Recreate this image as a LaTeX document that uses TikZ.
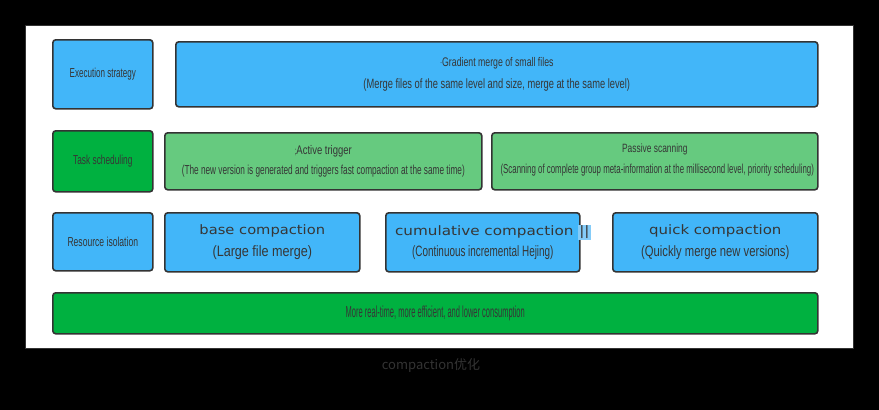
\documentclass[tikz,border=0pt]{standalone}
\usepackage{fontspec}
\setmainfont{Liberation Sans}
\newfontfamily\widefont{DejaVu Sans}
\newfontfamily\cjk{Noto Sans CJK SC}
\usetikzlibrary{positioning}
\definecolor{Sky}{HTML}{42B6F9}
\definecolor{Leaf}{HTML}{00B140}
\definecolor{Mint}{HTML}{66CA7F}
\definecolor{Edge}{HTML}{333333}
\definecolor{Ink}{HTML}{363636}
\definecolor{Pick}{HTML}{85CCF8}
% size and squeeze of a line
\newcommand\fz[2]{\fontsize{#1}{20.5}\selectfont\addfontfeature{FakeStretch=#2}}

\begin{document}
\begin{tikzpicture}[x=1pt,y=-1pt,every node/.style={align=center,text=Ink,inner sep=0pt,font=\fontsize{13}{20.5}\selectfont},
  blk/.style={draw=Edge,line width=1.6pt,rounded corners=3pt,anchor=north west}]
  \fill (0,0) rectangle (879,410);
  \draw[fill=white,draw=Edge] (25,25) rectangle (853,348);
  % left column
  \node[blk,fill=Sky,minimum width=100pt,minimum height=69pt] (exec) at (52,39) {\fz{13}{0.62}Execution strategy};
  \node[blk,fill=Leaf,minimum width=100pt,minimum height=61pt] (task) at (52,130) {\fz{13}{0.64}Task scheduling};
  \node[blk,fill=Sky,minimum width=100pt,minimum height=58pt] (res) at (52,212) {\fz{13}{0.66}Resource isolation};
  % strategy row
  \node[blk,fill=Sky,minimum width=642pt,minimum height=65pt] (grad) at (175,41)
    {{\fz{12.5}{0.7}{\fontsize{9}{9}\selectfont\raisebox{1pt}{\textperiodcentered}}Gradient merge of small files}\\[1pt]{\fz{13.5}{0.69}(Merge files of the same level and size, merge at the same level)}};
  % scheduling row
  \node[blk,fill=Mint,minimum width=317pt,minimum height=57pt] (act) at (164,132)
    {{\fz{12.5}{0.76}{\fontsize{10}{10}\selectfont\addfontfeature{FakeStretch=0.6};}Active trigger}\\{\fz{13}{0.635}(The new version is generated and triggers fast compaction at the same time)}};
  \node[blk,fill=Mint,minimum width=326pt,minimum height=57pt] (pas) at (491,132)
    {{\fz{12}{0.7}Passive scanning}\\{\setlength{\fboxsep}{2.5pt}\hspace*{5pt}\colorbox{Mint}{\fz{13}{0.605}(Scanning of complete group meta-information at the millisecond level, priority scheduling)}}};
  % isolation row
  \node[blk,fill=Sky,minimum width=195pt,minimum height=59pt] (base) at (164,212)
    {{\widefont\fz{13}{1.13}base compaction}\\[1pt]{\fz{15}{0.84}(Large file merge)}};
  \node[blk,fill=Sky,minimum width=194pt,minimum height=59pt] (cum) at (385,212)
    {\makebox[150pt]{\hspace*{20pt}{\widefont\fz{13}{1.17}cumulative compaction {\setlength{\fboxsep}{1pt}\colorbox{Pick}{||}}}}\\[1pt]{\fz{15}{0.66}(Continuous incremental Hejing)}};
  \node[blk,fill=Sky,minimum width=205pt,minimum height=59pt] (quick) at (612,212)
    {{\widefont\fz{13}{1.15}quick compaction}\\[1pt]{\fz{15}{0.75}(Quickly merge new versions)}};
  % result
  \node[blk,fill=Leaf,minimum width=765pt,minimum height=41pt] (goal) at (52,292)
    {\fz{16}{0.47}More real-time, more efficient, and lower consumption};
  \node[text=Edge,font=\cjk\fontsize{13}{15}\selectfont] (cap) at (431,366) {compaction优化};
\end{tikzpicture}
\end{document}
